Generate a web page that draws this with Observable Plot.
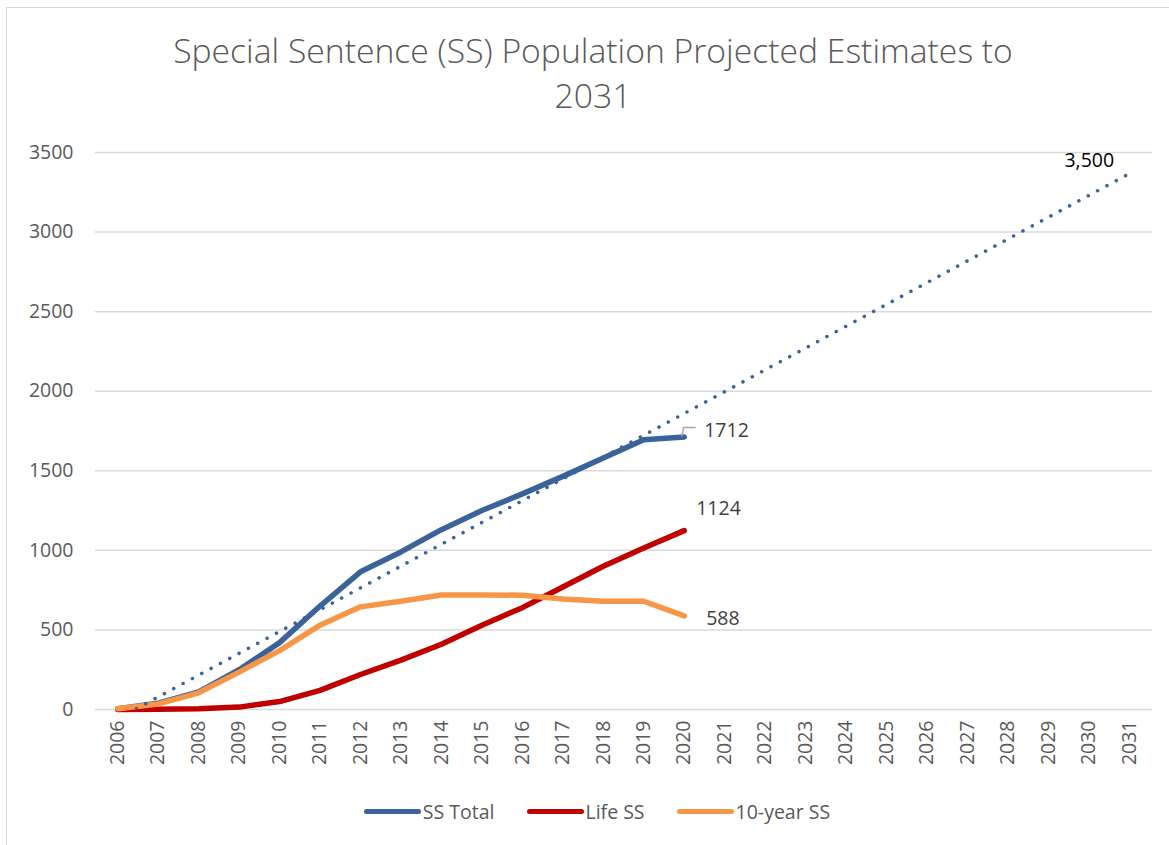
<!DOCTYPE html>
<html>
<head>
<meta charset="utf-8">
<script src="https://cdn.jsdelivr.net/npm/d3@7"></script>
<script src="https://cdn.jsdelivr.net/npm/@observablehq/plot@0.6"></script>
<style>
  html, body { margin: 0; padding: 0; background: #fff; }
  #page { position: relative; width: 1169px; height: 845px; overflow: hidden; font-family: "Open Sans", sans-serif; background: #fff; }
  #frame { position: absolute; left: 6px; top: 7px; width: 1200px; height: 900px; border: 1.5px solid #d9d9d9; box-sizing: border-box; }
  #title { position: absolute; left: 7px; width: 1172px; top: 28px; text-align: center; color: #595959; font-size: 33.7px; line-height: 45px; font-weight: 300; }
  #chart { position: absolute; left: 0; top: 120px; }
  #legend { position: absolute; left: 0; width: 1194px; top: 798px; display: flex; justify-content: center; align-items: center; color: #595959; font-size: 19.5px; }
  .item { display: flex; align-items: center; margin: 0 16px; }
  .sw { width: 57px; height: 5px; border-radius: 3px; margin-right: 2px; }
</style>
</head>
<body>
<div id="page">
  <div id="frame"></div>
  <div id="title">Special Sentence (SS) Population Projected Estimates to<br>2031</div>
  <div id="chart"></div>
  <div id="legend"></div>
</div>
<script>
// ---- data ----
const years = [2006, 2007, 2008, 2009, 2010, 2011, 2012, 2013, 2014, 2015, 2016, 2017, 2018, 2019, 2020];
const ssTotal = [5, 40, 110, 250, 420, 650, 865, 990, 1130, 1250, 1355, 1465, 1580, 1695, 1712];
const lifeSS = [0, 2, 5, 15, 50, 120, 220, 310, 410, 530, 640, 770, 900, 1015, 1124];
const tenYearSS = [5, 35, 105, 235, 370, 530, 645, 680, 720, 720, 718, 695, 680, 680, 588];
const trendYears = [2006, 2031];
const trendValues = [-58, 3367];
const trendLabel = "3,500";
const xTicks = [2006, 2007, 2008, 2009, 2010, 2011, 2012, 2013, 2014, 2015, 2016, 2017, 2018, 2019, 2020, 2021, 2022, 2023, 2024, 2025, 2026, 2027, 2028, 2029, 2030, 2031];
const yTicks = [0, 500, 1000, 1500, 2000, 2500, 3000, 3500];
const seriesNames = ["SS Total", "Life SS", "10-year SS"];
const seriesColors = ["#3A6399", "#C00000", "#F79646"];

// ---- build tables ----
const seriesValues = [ssTotal, lifeSS, tenYearSS];
const rows = [];
seriesNames.forEach((name, i) => years.forEach((yr, j) => rows.push({series: name, year: yr, value: seriesValues[i][j]})));
const trend = trendYears.map((yr, i) => ({year: yr, value: trendValues[i]}));
const lastOf = (name) => rows.filter(d => d.series === name).slice(-1);

const labelStyle = {fill: "#404040", fontSize: 19.5, textAnchor: "start"};

const leader = (index, scales) => {
  const p = lastOf("SS Total")[0];
  const x = scales.x(p.year), y = scales.y(p.value);
  const path = document.createElementNS("http://www.w3.org/2000/svg", "path");
  path.setAttribute("d", `M${x - 2},${y} L${x},${y - 9} L${x + 12},${y - 9}`);
  path.setAttribute("fill", "none");
  path.setAttribute("stroke", "#a6a6a6");
  path.setAttribute("stroke-width", "1.5");
  return path;
};

const chart = Plot.plot({
  width: 1169,
  height: 660,
  marginLeft: 97,
  marginRight: 20,
  marginTop: 32,
  marginBottom: 71,
  style: {fontFamily: "Open Sans, sans-serif", fontSize: "19.5px", color: "#595959", background: "transparent", overflow: "visible"},
  x: {type: "linear", domain: [2005.5, 2031.5], ticks: xTicks, tickFormat: d => String(d), tickRotate: -90, tickSize: 0, tickPadding: 11, label: null},
  y: {domain: [0, 3500], ticks: yTicks, tickFormat: d => String(d), tickSize: 0, tickPadding: 24, label: null},
  color: {domain: seriesNames, range: seriesColors},
  marks: [
    Plot.ruleY(yTicks, {stroke: "#d9d9d9", strokeWidth: 1.5, insetLeft: -2, insetRight: -3}),
    Plot.line(rows, {x: "year", y: "value", z: "series", stroke: "series", strokeWidth: 5.5, strokeLinecap: "round", strokeLinejoin: "round"}),
    Plot.line(trend, {x: "year", y: "value", stroke: seriesColors[0], strokeWidth: 3.5, strokeDasharray: "0.1 10.5", strokeLinecap: "round", clip: true}),
    leader,
    Plot.text(lastOf("SS Total"), {x: "year", y: "value", text: d => String(d.value), dx: 20, dy: -6, ...labelStyle}),
    Plot.text(lastOf("Life SS"), {x: "year", y: "value", text: d => String(d.value), dx: 12, dy: -22, ...labelStyle}),
    Plot.text(lastOf("10-year SS"), {x: "year", y: "value", text: d => String(d.value), dx: 22, dy: 3, ...labelStyle}),
    Plot.text(trend.slice(-1), {x: "year", y: "value", text: () => trendLabel, dx: -40, dy: -13, fill: "#000", fontSize: 19.5})
  ]
});
document.getElementById("chart").appendChild(chart);

// ---- legend ----
const legend = document.getElementById("legend");
seriesNames.forEach((name, i) => {
  const item = document.createElement("div");
  item.className = "item";
  const sw = document.createElement("div");
  sw.className = "sw";
  sw.style.background = seriesColors[i];
  const t = document.createElement("span");
  t.textContent = name;
  item.appendChild(sw);
  item.appendChild(t);
  legend.appendChild(item);
});
</script>
</body>
</html>
